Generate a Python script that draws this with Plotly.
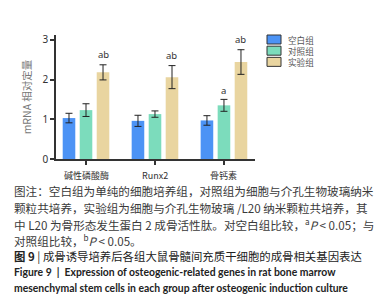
import plotly.graph_objects as go

categories = ["碱性磷酸酶", "Runx2", "骨钙素"]
groups = ["空白组", "对照组", "实验组"]
blank_vals = [1.03, 0.96, 0.97]
blank_err = [0.12, 0.14, 0.12]
control_vals = [1.23, 1.13, 1.35]
control_err = [0.16, 0.08, 0.15]
exp_vals = [2.18, 2.06, 2.44]
exp_err = [0.19, 0.29, 0.31]
control_marks = ["", "", "a"]
exp_marks = ["ab", "ab", "ab"]
y_ticks = [0, 1, 2, 3]

colors = ["#4c93f5", "#7cdcbc", "#e9d5a0"]
W, H = 384, 302
L, R, T, B = 48, 247, 27, 151

def px(x):
    return (x - L) / (R - L)

def py(y):
    return (B - y) / (B - T)

fig = go.Figure()
series = [(blank_vals, blank_err), (control_vals, control_err), (exp_vals, exp_err)]
for name, (vals, errs), col in zip(groups, series, colors):
    fig.add_trace(go.Bar(
        x=categories, y=vals, name=name, marker_color=col, marker_line_width=0,
        error_y=dict(type="data", array=errs, color="#222", thickness=1, width=3.5),
        showlegend=False,
    ))

# significance marks
for i, c in enumerate(categories):
    if control_marks[i]:
        fig.add_annotation(x=c, y=control_vals[i] + control_err[i], text=control_marks[i],
                           xshift=0, yshift=9, showarrow=False,
                           font=dict(size=9.5, color="#333", family="Noto Sans"))
    if exp_marks[i]:
        fig.add_annotation(x=c, y=exp_vals[i] + exp_err[i], text=exp_marks[i],
                           xshift=17, yshift=10, showarrow=False,
                           font=dict(size=9.5, color="#333", family="Noto Sans"))

# category labels placed under the axis ticks
for c in categories:
    fig.add_annotation(x=c, xref="x", yref="paper", y=py(167), text=c,
                       xanchor="center", yanchor="middle", showarrow=False,
                       font=dict(size=9, color="#333", family="Noto Sans CJK SC"))

# legend (manual): boxes + one multi-line label block
leg_size = 8.6
leg_step = leg_size * 1.3
leg_top = 31.5
for k, col in enumerate(colors):
    yy = leg_top + k * leg_step
    fig.add_shape(type="rect", xref="paper", yref="paper",
                  x0=px(259), x1=px(273), y0=py(yy - 4.5), y1=py(yy + 4.5),
                  fillcolor=col, line=dict(color="#333", width=1))
fig.add_annotation(xref="paper", yref="paper", x=px(278), y=py(leg_top + leg_step),
                   text="<br>".join(groups),
                   xanchor="left", yanchor="middle", align="left", showarrow=False,
                   font=dict(size=leg_size, color="#555", family="Noto Sans CJK SC"))

# caption
cap_font = dict(size=11.6, color="#3a3a3a", family="Noto Sans CJK SC")
cap_lines = [
    (183, "图注：空白组为单纯的细胞培养组，对照组为细胞与介孔生物玻璃纳米"),
    (200, "颗粒共培养，实验组为细胞与介孔生物玻璃 /L20 纳米颗粒共培养，其"),
    (216.5, "中 L20 为骨形态发生蛋白 2 成骨活性肽。对空白组比较，<sup>a</sup><i>P</i> &lt; 0.05；与"),
    (233, "对照组比较，<sup>b</sup><i>P</i> &lt; 0.05。"),
]
for yy, t in cap_lines:
    fig.add_annotation(xref="paper", yref="paper", x=px(4), y=py(yy), text=t,
                       xanchor="left", yanchor="middle", showarrow=False, font=cap_font)

fig.add_annotation(xref="paper", yref="paper", x=px(4), y=py(248),
                   text="<b>图 9</b> | 成骨诱导培养后各组大鼠骨髓间充质干细胞的成骨相关基因表达",
                   xanchor="left", yanchor="middle", showarrow=False,
                   font=dict(size=11.4, color="#222", family="Noto Sans CJK SC"))
eng_font = dict(size=10.4, color="#222", family="Lato")
fig.add_annotation(xref="paper", yref="paper", x=px(4), y=py(263.5),
                   text="<b>Figure 9  |  Expression of osteogenic-related genes in rat bone marrow</b>",
                   xanchor="left", yanchor="middle", showarrow=False, font=eng_font)
fig.add_annotation(xref="paper", yref="paper", x=px(4), y=py(279.5),
                   text="<b>mesenchymal stem cells in each group after osteogenic induction culture</b>",
                   xanchor="left", yanchor="middle", showarrow=False, font=eng_font)

fig.update_layout(
    width=W, height=H,
    margin=dict(l=L, r=W - R, t=T, b=H - B, pad=0),
    paper_bgcolor="white", plot_bgcolor="white",
    barmode="group", bargap=0.26, bargroupgap=0.26,
    showlegend=False,
    font=dict(family="Noto Sans CJK SC", color="#333"),
)
fig.update_xaxes(range=[-0.435, 2.45], showline=True, linecolor="#333", linewidth=1.8,
                 ticks="outside", ticklen=4, tickwidth=1.5, tickcolor="#333",
                 showticklabels=False, showgrid=False, zeroline=False)
fig.update_yaxes(range=[0, 3.12], tickvals=y_ticks, showline=True, linecolor="#333",
                 linewidth=1.5, ticks="outside", ticklen=4, tickwidth=1.5, tickcolor="#333",
                 tickfont=dict(size=10, color="#333", family="Noto Sans"), showgrid=False,
                 zeroline=False,
                 title=dict(text="mRNA 相对定量", font=dict(size=10.5, color="#777"), standoff=9))

fig.write_html("out.html")
